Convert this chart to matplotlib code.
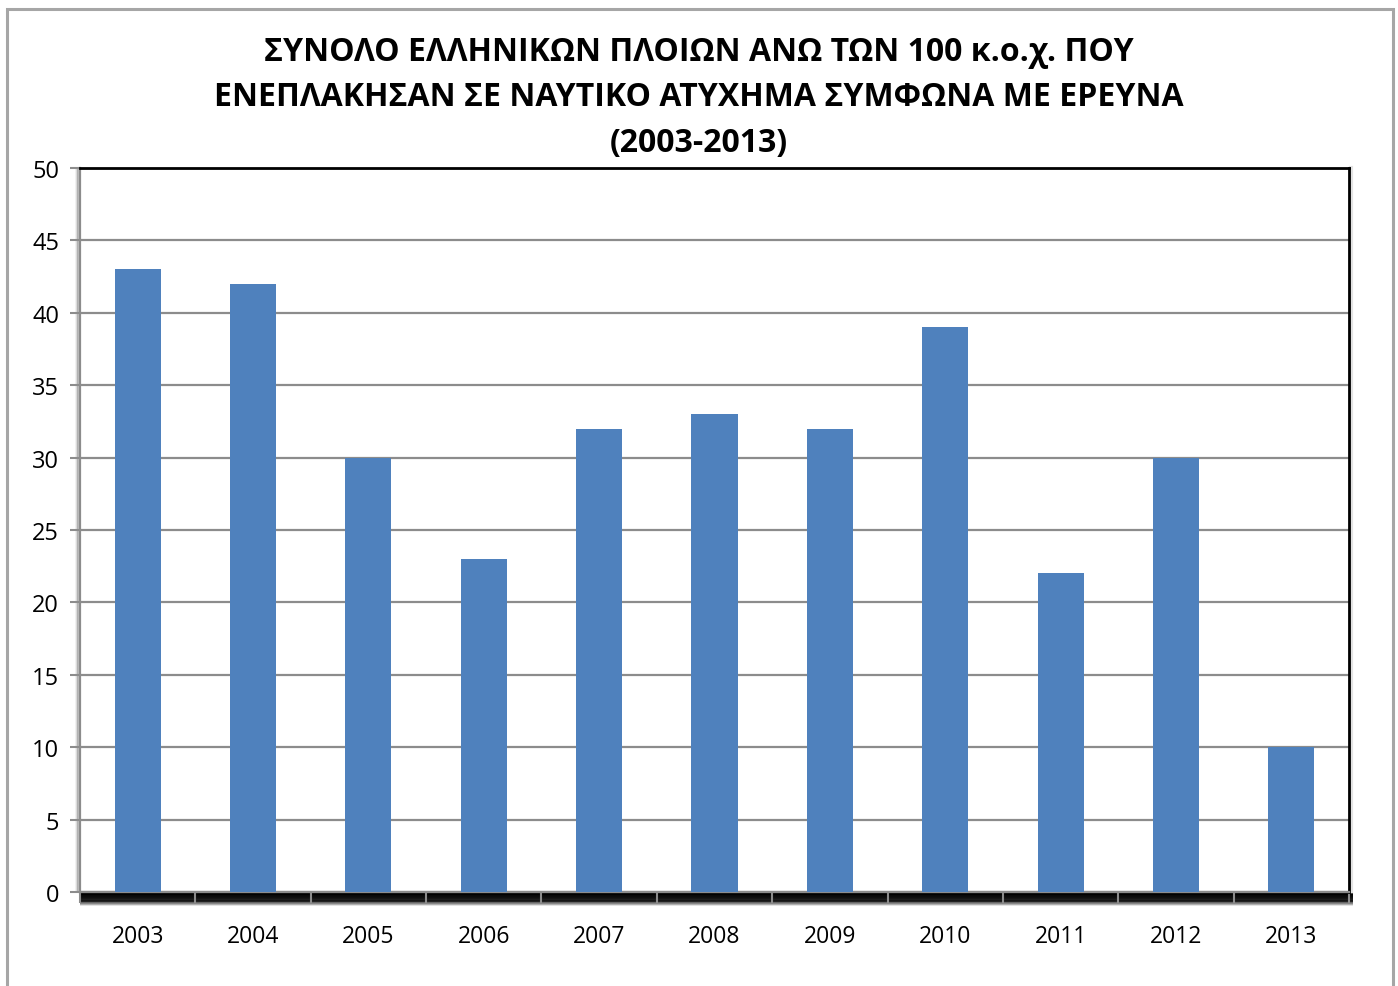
import numpy as np
import matplotlib.pyplot as plt
from matplotlib.patches import Rectangle

years = ['2003', '2004', '2005', '2006', '2007', '2008', '2009', '2010', '2011', '2012', '2013']
ships = [43, 42, 30, 23, 32, 33, 32, 39, 22, 30, 10]
title = 'ΣΥΝΟΛΟ ΕΛΛΗΝΙΚΩΝ ΠΛΟΙΩΝ ΑΝΩ ΤΩΝ 100 κ.ο.χ. ΠΟΥ\nΕΝΕΠΛΑΚΗΣΑΝ ΣΕ ΝΑΥΤΙΚΟ ΑΤΥΧΗΜΑ ΣΥΜΦΩΝΑ ΜΕ ΕΡΕΥΝΑ\n(2003-2013)'

plt.rcParams['font.family'] = ['Open Sans', 'DejaVu Sans']

fig = plt.figure(figsize=(13.98, 9.87), dpi=100)
# outer chart frame
fig.patches.append(Rectangle((7/1398, -0.01), 1386/1398, 1.0, transform=fig.transFigure,
                             fill=False, edgecolor='#a6a6a6', linewidth=2.2))

ax = fig.add_axes([80/1398, 1-893/987, 1269/1398, 724/987])
x = np.arange(len(years))
ax.bar(x, ships, width=0.4, color='#4f81bd', zorder=3)

ax.set_xlim(-0.5, len(years)-0.5)
ax.set_ylim(0, 50)
ax.set_yticks(range(0, 51, 5))
ax.yaxis.grid(True, color='#8c8c8c', linewidth=1.6, zorder=1)
ax.set_xticks(x)
ax.set_xticklabels(years)
ax.set_xticks(np.arange(-0.5, len(years), 1), minor=True)
ax.tick_params(axis='x', which='major', length=0, pad=23, labelsize=16.5)
ax.tick_params(axis='x', which='minor', length=8, width=1.5, color='#8c8c8c', direction='out')
ax.tick_params(axis='y', length=7, width=1.5, color='#8c8c8c', labelsize=17, pad=8)

for side in ['top', 'right']:
    ax.spines[side].set_color('black')
    ax.spines[side].set_linewidth(2)
ax.spines['left'].set_color('#8c8c8c')
ax.spines['left'].set_linewidth(1.6)
ax.spines['bottom'].set_color('#8c8c8c')
ax.spines['bottom'].set_linewidth(1.6)

# shadow under bottom edge and left edge
for i in range(14):
    a = 1.0 - (i/14)**2
    ax.plot([0, 1.003], [-0.0022 - i*0.0012]*2, transform=ax.transAxes, color='black',
            alpha=a, linewidth=1.2, clip_on=False, zorder=0, solid_capstyle='butt')
for i in range(4):
    ax.plot([-0.0012 - i*0.0006]*2, [0, 1], transform=ax.transAxes, color='gray',
            alpha=0.4 - i*0.09, linewidth=1.2, clip_on=False, zorder=0)
ax.plot([1.0015]*2, [0, 1], transform=ax.transAxes, color='#bbbbbb', linewidth=3, alpha=0.4,
        clip_on=False, zorder=0)

fig.text(0.5, 1-98/987, title, ha='center', va='center', fontsize=23, fontweight='bold',
         linespacing=1.5)

fig.savefig('out.png', dpi=100)
